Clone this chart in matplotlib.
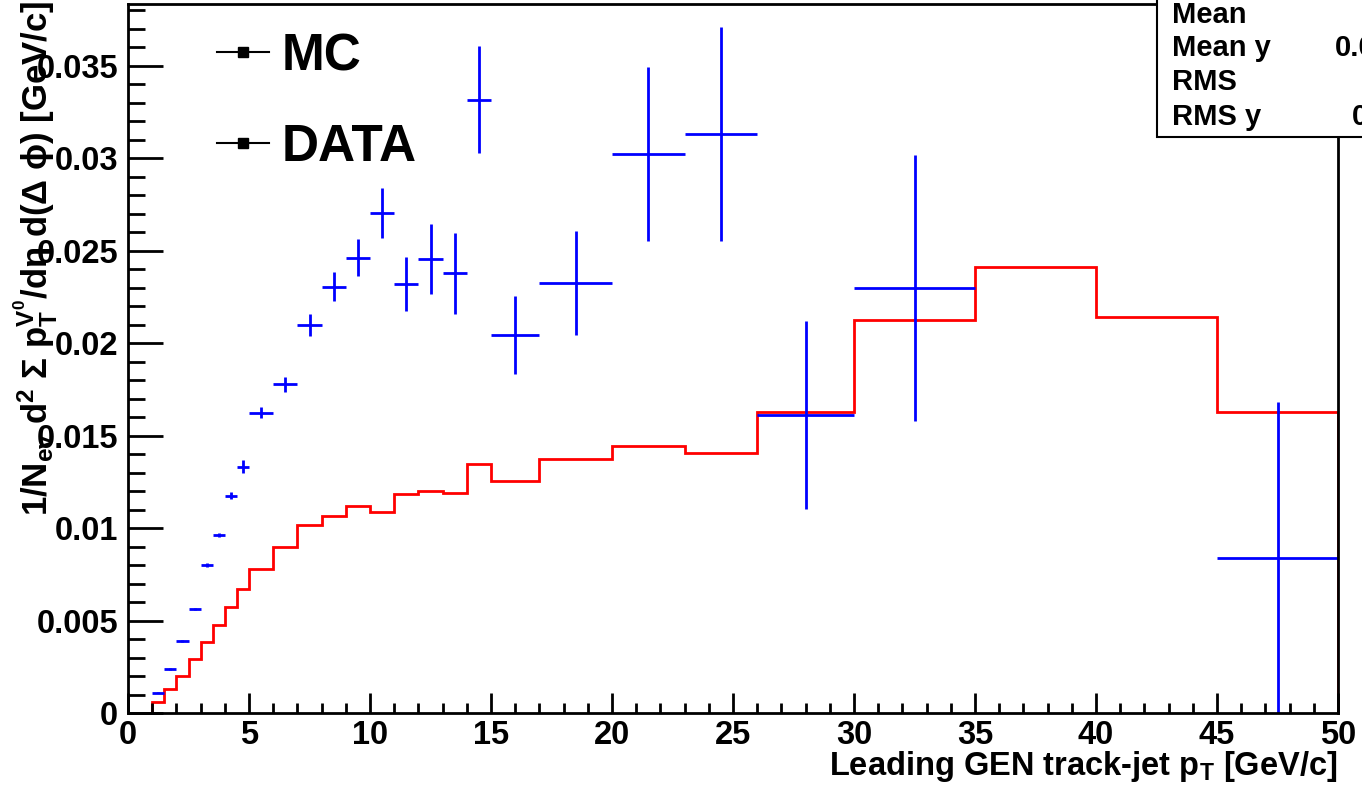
import numpy as np
import matplotlib
matplotlib.use("Agg")
import matplotlib.pyplot as plt
from matplotlib.lines import Line2D
from matplotlib.patches import Rectangle

plt.rcParams['font.family'] = ['Liberation Sans', 'DejaVu Sans']
plt.rcParams['font.weight'] = 'bold'
plt.rcParams['mathtext.fontset'] = 'custom'
plt.rcParams['mathtext.rm'] = 'Liberation Sans:bold'
plt.rcParams['mathtext.it'] = 'Liberation Sans:bold'
plt.rcParams['mathtext.bf'] = 'Liberation Sans:bold'

# bin edges of leading track-jet pT
edges = [1, 1.5, 2, 2.5, 3, 3.5, 4, 4.5, 5, 6, 7, 8, 9, 10, 11, 12, 13, 14, 15,
         17, 20, 23, 26, 30, 35, 40, 45, 50]

mc_vals = [0.00062, 0.0013, 0.0020, 0.0029, 0.00385, 0.00477, 0.00575, 0.00673,
           0.00777, 0.0090, 0.01017, 0.01065, 0.01118, 0.01089, 0.01186, 0.0120,
           0.01188, 0.01345, 0.01256, 0.01374, 0.01444, 0.01408, 0.0163,
           0.02126, 0.02413, 0.02143, 0.0163]

data_vals = [0.0011, 0.00237, 0.0039, 0.00562, 0.0080, 0.00963, 0.01176, 0.01333,
             0.01624, 0.01778, 0.02097, 0.02306, 0.02463, 0.02704, 0.0232, 0.02455,
             0.02378, 0.03317, 0.02043, 0.02327, 0.03025, 0.03131, 0.01611,
             0.02299, np.nan, np.nan, 0.00841]

data_errs = [0.00003, 0.00004, 0.00005, 0.00007, 0.0001, 0.00013, 0.0002, 0.00035,
             0.0003, 0.0004, 0.0006, 0.0008, 0.001, 0.00135, 0.00144, 0.0019,
             0.0022, 0.0029, 0.0021, 0.0028, 0.0047, 0.0058, 0.0051, 0.0072,
             np.nan, np.nan, 0.0084]

stat_names = ['Mean', 'Mean y', 'RMS', 'RMS y']
stat_vals = ['', '0.02164', '', '0.00771']

e = np.array(edges)
centers = 0.5 * (e[1:] + e[:-1])
halfw = 0.5 * (e[1:] - e[:-1])

fig = plt.figure(figsize=(13.62, 7.89), dpi=100)
ax = fig.add_axes([128/1362, 1 - 713/789, 1210/1362, 709/789])

ax.stairs(mc_vals, edges, color='red', lw=2, baseline=0)
ax.errorbar(centers, data_vals, xerr=halfw, yerr=data_errs, fmt='none',
            ecolor='blue', elinewidth=2, capsize=0)

ax.set_xlim(0, 50)
ax.set_ylim(0, 0.03835)
ax.set_xticks(np.arange(0, 51, 5))
ax.set_xticks(np.arange(0, 51, 1), minor=True)
ax.set_yticks(np.arange(0, 0.0351, 0.005))
ax.set_yticks(np.arange(0, 0.0381, 0.001), minor=True)
ax.set_yticklabels(['0', '0.005', '0.01', '0.015', '0.02', '0.025', '0.03', '0.035'])

ax.tick_params(axis='both', which='both', direction='in', width=2, labelsize=23.5)
ax.tick_params(axis='y', which='major', length=25, pad=7)
ax.tick_params(axis='y', which='minor', length=12.5)
ax.tick_params(axis='x', which='major', length=14.5, pad=5)
ax.tick_params(axis='x', which='minor', length=7.2)
for s in ax.spines.values():
    s.set_linewidth(2)

fig.text(1338/1362, 1 - 775/789, r'Leading GEN track-jet p$_{\rm T}$ [GeV/c]',
         ha='right', va='baseline', fontsize=23.5, fontweight='bold')
fig.text(36/1362, 0.999,
         r'1/N$_{\rm ev}$ d$^{\rm 2}$ $\Sigma$ p$_{\rm T}^{\rm V^0}$/d$\eta$ d($\Delta$ $\phi$) [GeV/c]',
         rotation=90, ha='center', va='top', fontsize=25, fontweight='bold')

handles = [Line2D([], [], color='black', lw=1.5, marker='s', markersize=7),
           Line2D([], [], color='black', lw=1.5, marker='s', markersize=7)]
ax.legend(handles, ['MC', 'DATA'], loc='upper left', bbox_to_anchor=(0.0505, 1.0),
          frameon=False, prop={'size': 37, 'weight': 'bold'}, handlelength=1.0,
          handletextpad=0.25, labelspacing=0.82, borderaxespad=0.15)

# stats box (cut off at the right edge)
fig.patches.append(Rectangle((1157/1362, 1 - 137/789), 0.3, 0.3,
                             transform=fig.transFigure, facecolor='white',
                             edgecolor='black', lw=1.5, zorder=5))
ys = [15, 48, 82, 117]
for name, val, yy in zip(stat_names, stat_vals, ys):
    fig.text(1172/1362, 1 - yy/789, name, ha='left', va='center', fontsize=21,
             fontweight='bold', zorder=6)
    if val:
        fig.text(1335/1362 if name == 'Mean y' else 1352/1362, 1 - yy/789, val,
                 ha='left', va='center', fontsize=21, fontweight='bold', zorder=6)

fig.savefig('out.png', dpi=100)
